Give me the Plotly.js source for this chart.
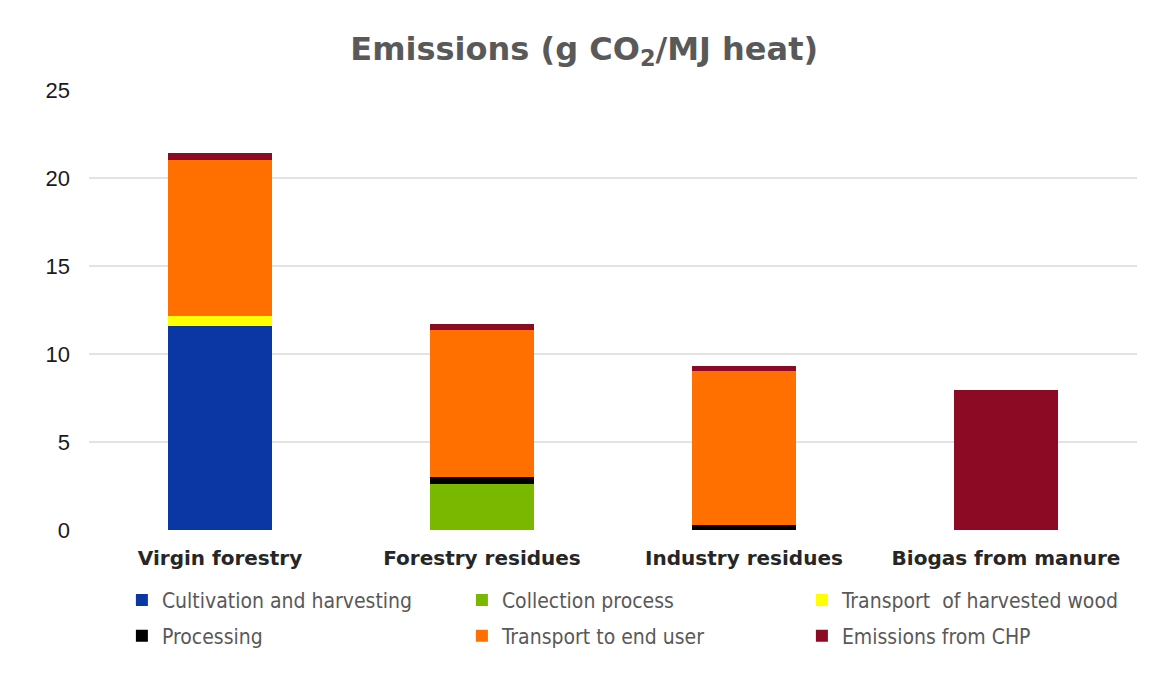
<!DOCTYPE html>
<html>
<head>
<meta charset="utf-8">
<script src="https://cdn.plot.ly/plotly-3.0.1.min.js"></script>
<style>html,body{margin:0;padding:0;background:#fff;}</style>
</head>
<body>
<div id="chart" style="width:1150px;height:690px;"></div>
<script>
const categories = ["Virgin forestry", "Forestry residues", "Industry residues", "Biogas from manure"];
const seriesNames = ["Cultivation and harvesting", "Collection process", "Transport  of harvested wood",
                     "Processing", "Transport to end user", "Emissions from CHP"];
const cultivation = [11.6, 0, 0, 0];
const collection = [0, 2.6, 0, 0];
const transportHarvested = [0.55, 0, 0, 0];
const processing = [0, 0.4, 0.3, 0];
const transportEndUser = [8.9, 8.35, 8.75, 0];
const chp = [0.37, 0.33, 0.26, 7.95];
const yTicks = [0, 5, 10, 15, 20, 25];

const colors = ["#0a37a4", "#7ab800", "#ffff00", "#000000", "#ff7000", "#8c0a24"];
const values = [cultivation, collection, transportHarvested, processing, transportEndUser, chp];

const traces = values.map((v, i) => ({
  type: "bar",
  name: seriesNames[i],
  x: categories,
  y: v,
  marker: {color: colors[i], line: {width: 0}},
  width: 0.4,
  legend: i < 3 ? "legend" : "legend2",
  hoverinfo: "x+y+name"
}));

const legendFont = {family: "DejaVu Sans Condensed, DejaVu Sans, sans-serif", size: 21, color: "#595959"};
const layout = {
  width: 1150, height: 690,
  margin: {l: 89, r: 13, t: 90, b: 160},
  paper_bgcolor: "#ffffff", plot_bgcolor: "#ffffff",
  barmode: "stack",
  bargap: 0.6,
  title: {
    text: "Emissions (g CO<sub>2</sub>/MJ heat)",
    font: {family: "DejaVu Sans, sans-serif", size: 32, color: "#595959", weight: "bold"},
    x: 0.508, xanchor: "center", y: 0.93, yanchor: "middle"
  },
  xaxis: {
    type: "category",
    showgrid: false, zeroline: false, showline: false, ticks: "",
    tickfont: {family: "DejaVu Sans, sans-serif", size: 20, color: "#262626", weight: "bold"},
    ticklabelstandoff: 14
  },
  yaxis: {
    range: [0, 25], tickvals: yTicks, ticktext: yTicks.map(String),
    showgrid: true, gridcolor: "#e3e3e3", gridwidth: 2,
    zeroline: false, showline: false, ticks: "",
    tickfont: {family: "Liberation Sans, Arial, sans-serif", size: 22, color: "#1a1a1a"},
    ticklabelstandoff: 18
  },
  showlegend: true,
  legend: {
    orientation: "h", xref: "container", yref: "container",
    x: 0.106, y: 0.130, xanchor: "left", yanchor: "middle",
    font: legendFont, entrywidth: 295, entrywidthmode: "pixels",
    traceorder: "normal", itemclick: false, bgcolor: "rgba(0,0,0,0)"
  },
  legend2: {
    orientation: "h", xref: "container", yref: "container",
    x: 0.106, y: 0.078, xanchor: "left", yanchor: "middle",
    font: legendFont, entrywidth: 295, entrywidthmode: "pixels",
    traceorder: "normal", itemclick: false, bgcolor: "rgba(0,0,0,0)"
  }
};

Plotly.newPlot("chart", traces, layout, {displayModeBar: false, staticPlot: true});
</script>
</body>
</html>
